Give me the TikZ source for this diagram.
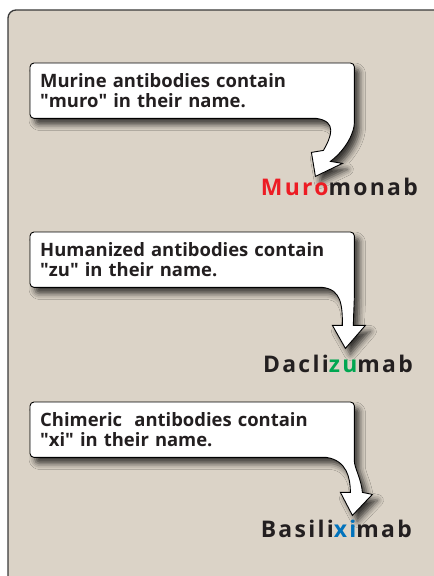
\documentclass[tikz,border=0pt]{standalone}
\usepackage{fontspec}
\setmainfont{Open Sans}
\usetikzlibrary{positioning, calc, backgrounds, shadows.blur}
\definecolor{PanelBeige}{HTML}{DBD3C7}
\definecolor{PanelEdge}{HTML}{3A3A3A}
\definecolor{InkText}{HTML}{231F20}
\definecolor{MuroRed}{HTML}{ED1C24}
\definecolor{ZuGreen}{HTML}{00A651}
\definecolor{XiBlue}{HTML}{0072BC}

\tikzset{
  note/.style={anchor=north west, text width=304bp, inner xsep=10bp, inner ysep=8.5bp,
    minimum height=55bp, align=left, text=InkText,
    font=\bfseries\fontsize{18.5}{20}\selectfont},
  bubble/.style={draw=black, fill=white, line width=0.9bp, line join=miter,
    blur shadow={shadow xshift=5bp, shadow yshift=-6bp, shadow blur radius=6bp, shadow opacity=75}},
  drug/.style={anchor=base east, inner sep=0pt, text=InkText,
    font=\bfseries\fontsize{23}{24}\selectfont\addfontfeatures{LetterSpace=10}},
}

\begin{document}
\begin{tikzpicture}[x=1bp, y=-1bp]
    \useasboundingbox (0,0) rectangle (434,576);

    % notes and names
    \node[note] (m1) at (30,63) {Murine antibodies contain\\\textquotedbl muro\textquotedbl{} in their name.};
    \node[note] (m2) at (30,232) {Humanized antibodies contain\\\textquotedbl zu\textquotedbl{} in their name.};
    \node[note] (m3) at (30,402) {Chimeric~ antibodies contain\\\textquotedbl xi\textquotedbl{} in their name.};

    \node[drug] (d1) at (418,195) {{\color{MuroRed}Muro}monab};
    \node[drug] (d2) at (413,372) {Dacli{\color{ZuGreen}zu}mab};
    \node[drug] (d3) at (412,537) {Basili{\color{XiBlue}xi}mab};

    \begin{scope}[on background layer]
        \draw[fill=PanelBeige, draw=PanelEdge, line width=1.3bp, rounded corners=8bp] (8,10) rectangle (470,620);

        % callouts, tail from each note down to its name
        \begin{scope}[shift={(m1.south east)}]
            \draw[bubble] (-38,0) [rounded corners=4bp] -- (m1.south west) -- (m1.north west) -- (m1.north east) -- (0,0)
                [sharp corners] .. controls (0,13) and (-7,30) .. (-24,43) -- (-12,45) -- (-39,58) -- (-43,34) -- (-31,32)
                .. controls (-23,18) and (-17,3) .. (-38,0) -- cycle;
        \end{scope}
        \begin{scope}[shift={(m2.south east)}]
            \draw[bubble] (-32,0) [rounded corners=4bp] -- (m2.south west) -- (m2.north west) -- (m2.north east) -- (0,0)
                [sharp corners] .. controls (0,14) and (-1,28) .. (-1,38) -- (11,38) -- (-9,61) -- (-22,38) -- (-12,38)
                .. controls (-12,18) and (-13,2) .. (-32,0) -- cycle;
        \end{scope}
        \begin{scope}[shift={(m3.south east)}]
            \draw[bubble] (-28,0) [rounded corners=4bp] -- (m3.south west) -- (m3.north west) -- (m3.north east) -- (0,0)
                [sharp corners] .. controls (0,10) and (7,22) .. (8,35) -- (18,37) -- (-2,58) -- (-14,35) -- (-4,35)
                .. controls (-4,20) and (-8,3) .. (-28,0) -- cycle;
        \end{scope}
    \end{scope}
\end{tikzpicture}
\end{document}
